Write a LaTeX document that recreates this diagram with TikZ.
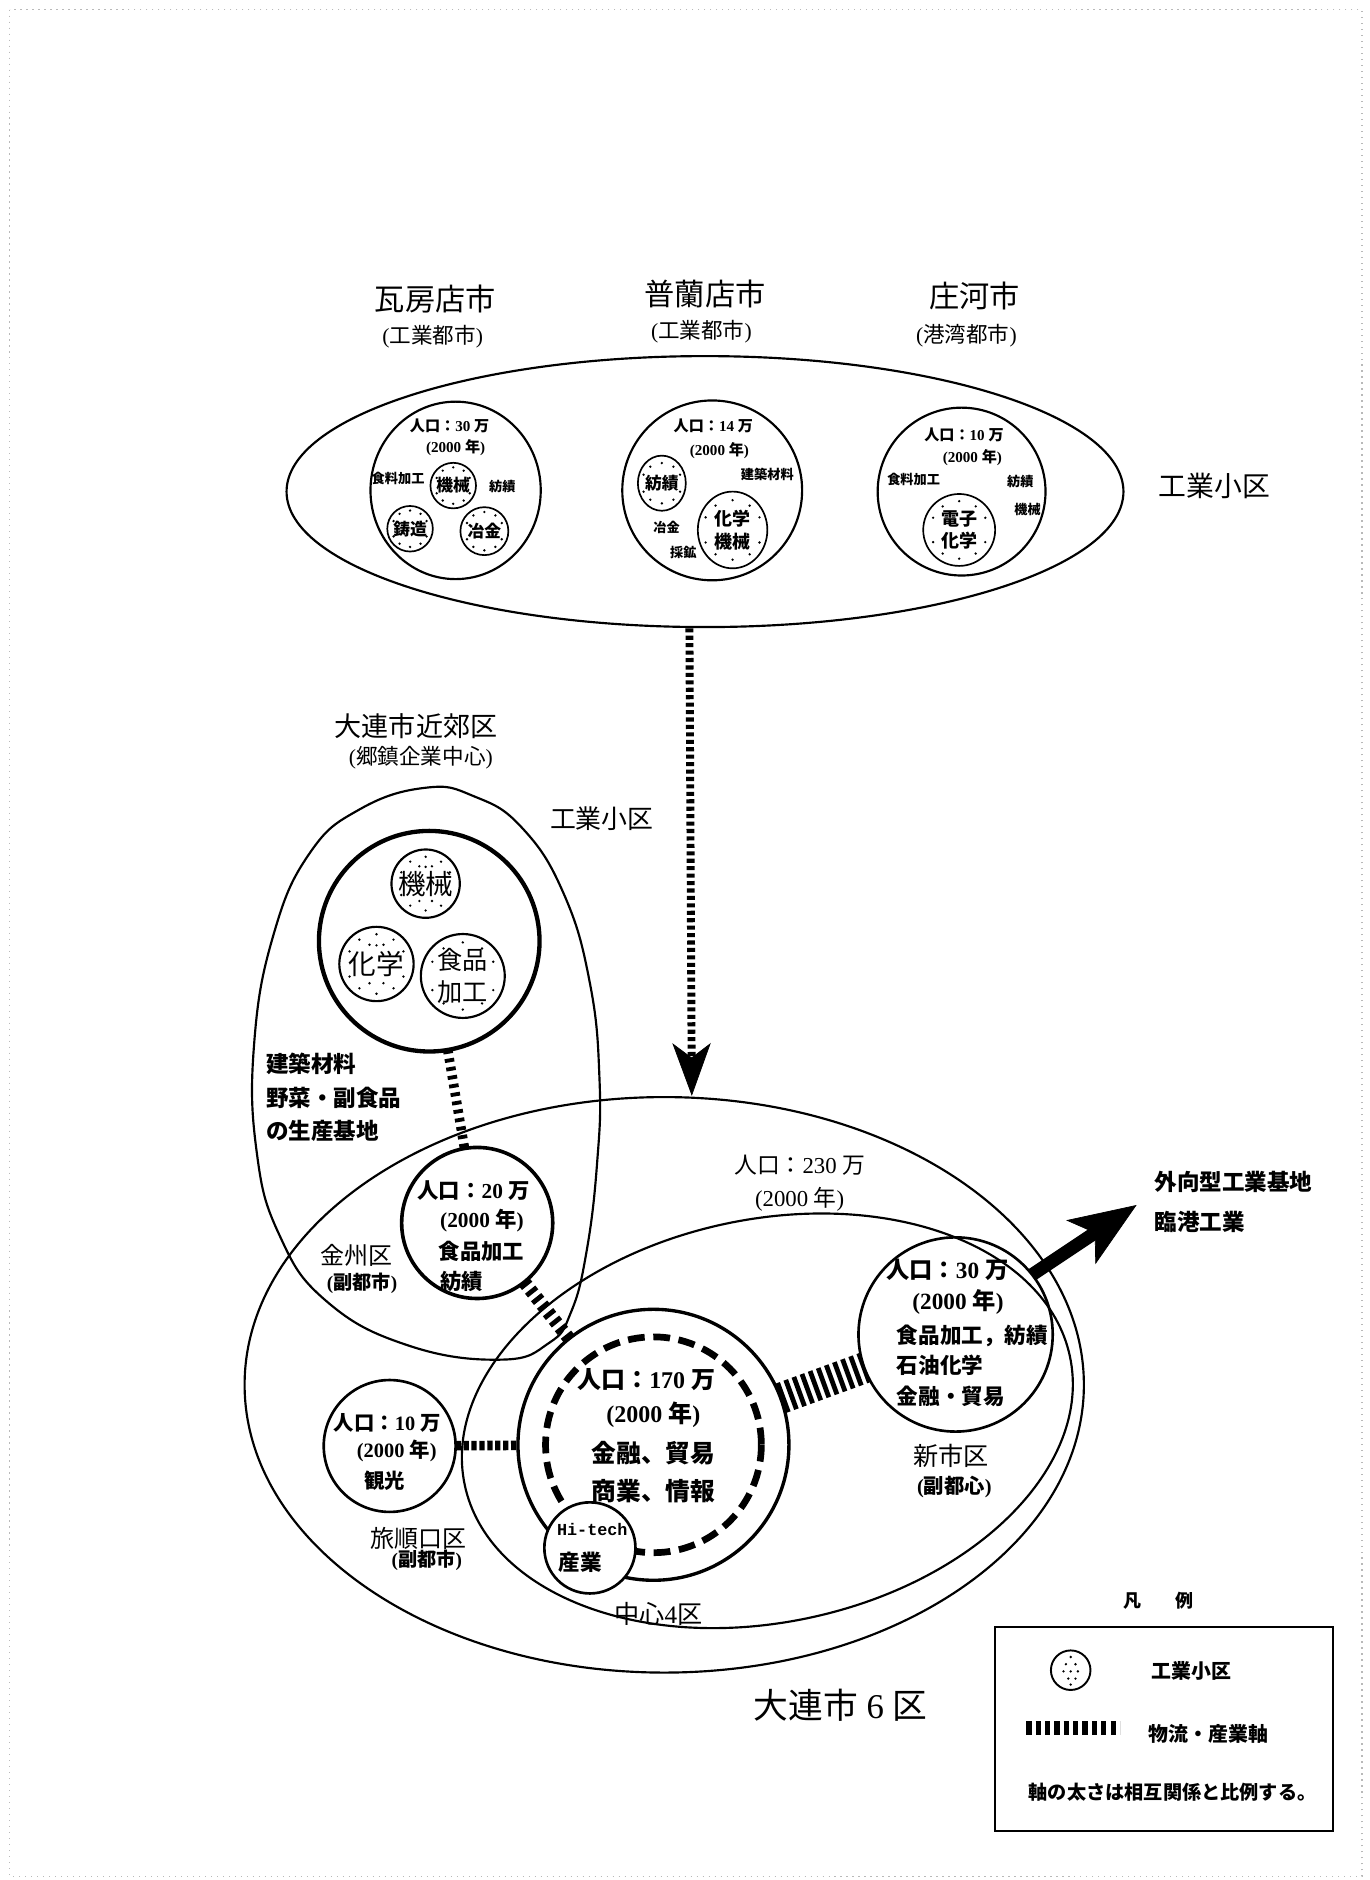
\documentclass[tikz,border=0pt]{standalone}
\usepackage{fontspec}
\setmainfont{Noto Sans CJK JP}
\newfontfamily\ser{Liberation Serif}
\newfontfamily\mono{Liberation Mono}
\usetikzlibrary{shapes.geometric,arrows.meta}

% serif figures inside Japanese labels
\newcommand\yr{{\ser(2000 }年{\ser)}}
\newcommand\pop[1]{人口：{\ser #1 }万}
\newcommand\paren[1]{{\ser(}#1{\ser)}}

% ring of dots marking an industrial estate circle (node, radius)
\newcommand\pepper[2]{%
  \foreach \a in {90,55,125,25,155,-90,-55,-125,-25,-155}
    \fill (#1) ++(\a:{0.8*#2}) circle (1.1);}
% extra dots above and below a one-line label
\newcommand\pepperin[2]{%
  \foreach \a/\f in {70/0.55,110/0.55,-70/0.55,-110/0.55,-90/0.5}
    \fill (#1) ++(\a:{\f*#2}) circle (1.1);}

\begin{document}
\begin{tikzpicture}[x=0.5pt,y=-0.5pt,
  every node/.style={inner sep=0pt, outer sep=0pt},
  ring/.style={draw, circle, inner sep=0pt, line width=0.9pt},
  oval/.style={draw, ellipse, inner sep=0pt, line width=0.9pt},
  lbl/.style={font=\fontsize{#1}{#1}\selectfont},
  blbl/.style={font=\bfseries\fontsize{#1}{#1}\selectfont},
]
\useasboundingbox (0,0) rectangle (1142,1568);
\fill[white] (0,0) rectangle (1142,1568);
\draw[gray!55, line width=0.5pt, dotted] (8,8) rectangle (1136,1565);

% ---------------- satellite cities ----------------
\node[lbl=12.6] (tWa) at (363,249) {瓦房店市};
\node[lbl=9] (tWa2) at (361,281) {\paren{工業都市}};
\node[lbl=12.6] (tPu) at (588,245) {普蘭店市};
\node[lbl=9] (tPu2) at (585,277) {\paren{工業都市}};
\node[lbl=12.6] (tZh) at (813,247) {庄河市};
\node[lbl=9] (tZh2) at (806,280) {\paren{港湾都市}};
\node[lbl=11.6] (tZone) at (1013,405) {工業小区};

\node[oval, minimum width=349pt, minimum height=113pt] (zone) at (588,410) {};

% Wafangdian
\node[oval, minimum width=71pt, minimum height=74pt] (cWa) at (380,409) {};
\node[blbl=6.3] (wa1) at (375,355) {\pop{30}};
\node[blbl=6.3] (wa2) at (380,373) {\yr};
\node[blbl=5.5] (wa3) at (332,399) {食料加工};
\node[blbl=5.5] (wa4) at (419,406) {紡績};
\node[ring, line width=0.7pt, minimum size=19pt, blbl=7] (k1) at (378,405) {機械};
\node[ring, line width=0.7pt, minimum size=19pt, blbl=7] (k2) at (342,441) {鋳造};
\node[ring, line width=0.7pt, minimum size=20pt, blbl=7] (k3) at (404,443) {冶金};
\pepper{k1}{19} \pepper{k2}{19} \pepper{k3}{20}

% Pulandian
\node[ring, minimum size=75pt] (cPu) at (594,409) {};
\node[blbl=6.3] (pu1) at (595,355) {\pop{14}};
\node[blbl=6.3] (pu2) at (600,376) {\yr};
\node[oval, line width=0.7pt, minimum width=20pt, minimum height=23pt, blbl=7] (m1) at (552,403) {紡績};
\node[blbl=5.5] (pu3) at (640,396) {建築材料};
\node[oval, line width=0.7pt, minimum width=29pt, minimum height=32pt, blbl=7.5, align=center] (m2) at (611,442) {化学\\[2pt]機械};
\node[blbl=5.5] (pu4) at (556,440) {冶金};
\node[blbl=5.5] (pu5) at (570,461) {採鉱};
\pepper{m1}{21} \pepper{m2}{31}

% Zhuanghe
\node[ring, minimum size=70pt] (cZh) at (802,410) {};
\node[blbl=6.3] (zh1) at (804,363) {\pop{10}};
\node[blbl=6.3] (zh2) at (811,382) {\yr};
\node[blbl=5.5] (zh3) at (762,400) {食料加工};
\node[blbl=5.5] (zh4) at (851,402) {紡績};
\node[blbl=5.5] (zh5) at (857,425) {機械};
\node[ring, line width=0.7pt, minimum size=30pt, blbl=7.5, align=center] (z1) at (800,442) {電子\\[2pt]化学};
\pepper{z1}{30}

% link down to the city
\coordinate (vTop) at (575,524);
\coordinate (vTip) at (577,914);
\draw[line width=3.3pt, dash pattern=on 1.7pt off 1.4pt,
      -{Stealth[length=22pt,width=16pt,inset=6pt,line width=0.3pt]}] (vTop) -- (vTip);

% ---------------- suburbs ----------------
\node[lbl=11.3] (tSub) at (347,606) {大連市近郊区};
\node[lbl=9] (tSub2) at (351,632) {\paren{郷鎮企業中心}};
\node[lbl=10.8] (tSubZ) at (502,683) {工業小区};

\draw[line width=0.9pt] plot[smooth cycle, tension=0.75] coordinates {
  (355,657) (300,675) (258,712) (228,780) (212,870) (214,960) (233,1030)
  (272,1085) (340,1122) (418,1134) (458,1120) (476,1095) (489,1045)
  (498,970) (500,900) (492,820) (470,745) (435,690) (395,664)};

\node[ring, line width=1.8pt, minimum size=92pt] (sub) at (358,785) {};
\node[ring, minimum size=28.5pt, lbl=11.5] (s1) at (355,737) {機械};
\node[ring, minimum size=31pt, lbl=11.5] (s2) at (314,804) {化学};
\node[ring, minimum size=35pt, lbl=10.5, align=center] (s3) at (386,814) {食品\\[3pt]加工};
\pepper{s1}{28} \pepper{s2}{31} \pepper{s3}{35}
\pepperin{s1}{28} \pepperin{s2}{31}

\node[blbl=9.4, anchor=west] (b1) at (222,887) {建築材料};
\node[blbl=9.4, anchor=west] (b2) at (222,916) {野菜・副食品};
\node[blbl=9.4, anchor=west] (b3) at (222,943) {の生産基地};

% ---------------- Dalian six districts ----------------
\draw[line width=0.9pt] (554,1155) ellipse [x radius=350, y radius=240];
\draw[line width=0.9pt, rotate around={12:(640,1185)}] (640,1185) ellipse [x radius=258, y radius=168];

\node[lbl=9.5] (c61) at (667,972) {\pop{230}};
\node[lbl=9.5] (c62) at (667,1000) {\yr};
\node[lbl=14.5] (c63) at (701,1422) {大連市{\ser\ 6 }区};
\node[lbl=10.5] (c64) at (549,1346) {中心{\ser 4}区};

% Jinzhou
\node[ring, line width=1.5pt, minimum size=63pt, fill=white] (jz) at (398,1020) {};
\node[blbl=8.9] (jz1) at (395,993) {\pop{20}};
\node[blbl=8.9] (jz2) at (402,1018) {\yr};
\node[blbl=8.9, anchor=west] (jz3) at (366,1044) {食品加工};
\node[blbl=8.9, anchor=west] (jz4) at (367,1069) {紡績};
\node[lbl=10] (jz5) at (297,1047) {金州区};
\node[blbl=8] (jz6) at (302,1070) {\paren{副都市}};

% centre
\node[ring, line width=1.4pt, minimum size=113pt] (cc) at (545,1205) {};
\draw[line width=2.8pt, dash pattern=on 7pt off 3.6pt] (cc.center) circle (90);
\node[blbl=10] (cc1) at (539,1151) {\pop{170}};
\node[blbl=10] (cc2) at (545,1180) {\yr};
\node[blbl=10.3] (cc3) at (545,1212) {金融、貿易};
\node[blbl=10.3] (cc4) at (545,1244) {商業、情報};

\node[ring, line width=1.1pt, minimum size=38pt, fill=white] (hi) at (492,1291) {};
\node[font=\mono\bfseries\fontsize{7}{7}\selectfont] (hi1) at (494,1276) {Hi-tech};
\node[blbl=9, anchor=west] (hi2) at (466,1303) {産業};

% Lushunkou
\node[ring, line width=1.1pt, minimum size=55pt] (ls) at (325,1206) {};
\node[blbl=8.5] (ls1) at (323,1187) {\pop{10}};
\node[blbl=8.5] (ls2) at (331,1210) {\yr};
\node[blbl=8.5] (ls3) at (321,1235) {観光};
\node[lbl=10] (ls4) at (349,1283) {旅順口区};
\node[blbl=8] (ls5) at (356,1301) {\paren{副都市}};

% new district
\node[ring, line width=1.1pt, minimum size=81pt] (nd) at (797,1113) {};
\node[blbl=9.7] (nd1) at (790,1059) {\pop{30}};
\node[blbl=9.7] (nd2) at (799,1086) {\yr};
\node[blbl=9, anchor=west] (nd3) at (748,1114) {食品加工，紡績};
\node[blbl=9, anchor=west] (nd4) at (748,1139) {石油化学};
\node[blbl=9, anchor=west] (nd5) at (748,1165) {金融・貿易};
\node[lbl=10.5] (nd6) at (793,1214) {新市区};
\node[blbl=8.5] (nd7) at (796,1240) {\paren{副都心}};

% logistics and industry axes
\draw[line width=4pt, dash pattern=on 1.6pt off 2pt] (sub) -- (jz);
\draw[line width=5.5pt, dash pattern=on 2pt off 2pt] (jz) -- (cc);
\draw[line width=4pt, dash pattern=on 2.2pt off 1.1pt] (ls) -- (cc);
\draw[line width=13pt, dash pattern=on 2pt off 1.6pt] (cc) -- (nd);

% export-oriented arrow
\coordinate (outTip) at (948,1005);
\draw[line width=5.5pt, -{Stealth[length=28pt,width=22pt,inset=7pt,line width=0.3pt]}] (nd.38) -- (outTip);
\node[blbl=9.4, anchor=west] (ex1) at (963,986) {外向型工業基地};
\node[blbl=9.4, anchor=west] (ex2) at (963,1019) {臨港工業};

% ---------------- legend ----------------
\node[blbl=7.5] (lgT) at (966,1335) {凡\hspace{14pt}例};
\node[draw, line width=1pt, minimum width=141pt, minimum height=85pt] (lg) at (971,1442) {};
\node[ring, line width=0.8pt, minimum size=16.5pt] (lgC) at (893,1393) {};
\foreach \p in {(-4,-5),(4,-5),(-6,1),(0,1),(6,1),(-2,7),(4,7),(0,-11),(0,12)}
  \fill (lgC) ++\p circle (1.1);
\node[blbl=8.3] (lg1) at (994,1394) {工業小区};
\coordinate (lgA) at (856,1441);
\coordinate (lgB) at (934,1441);
\draw[line width=6pt, dash pattern=on 2.2pt off 1.7pt] (lgA) -- (lgB);
\node[blbl=8.3] (lg2) at (1008,1446) {物流・産業軸};
\node[blbl=8] (lg3) at (978,1495) {軸の太さは相互関係と比例する。};
\end{tikzpicture}
\end{document}
